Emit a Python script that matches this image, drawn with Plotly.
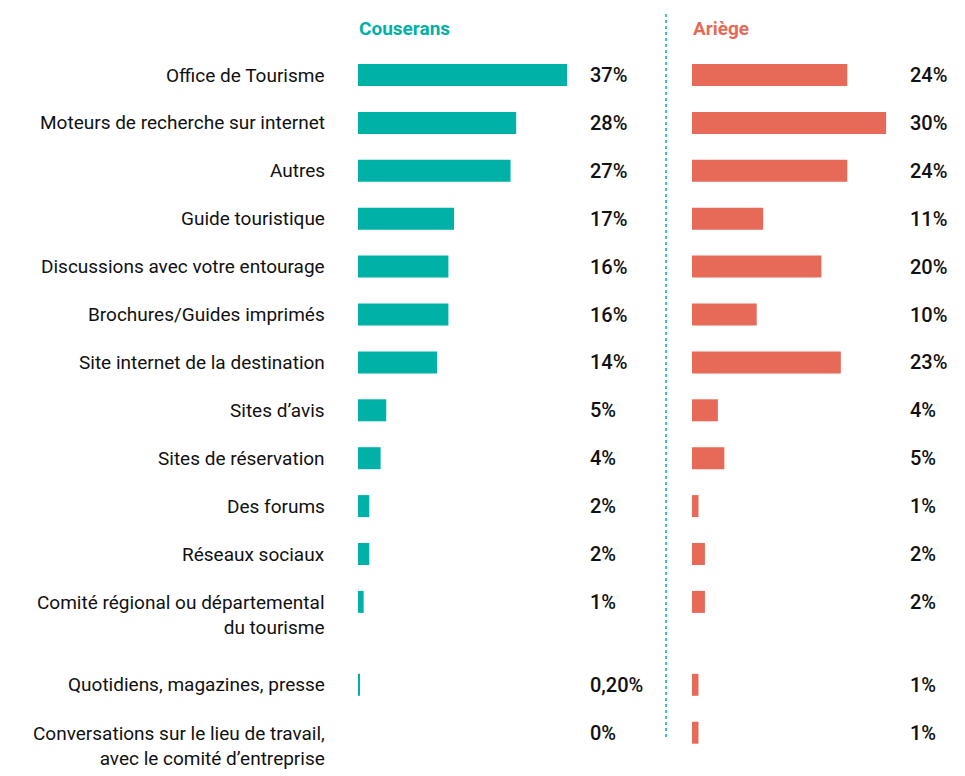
import plotly.graph_objects as go

categories = [
    "Office de Tourisme",
    "Moteurs de recherche sur internet",
    "Autres",
    "Guide touristique",
    "Discussions avec votre entourage",
    "Brochures/Guides imprimés",
    "Site internet de la destination",
    "Sites d’avis",
    "Sites de réservation",
    "Des forums",
    "Réseaux sociaux",
    "Comité régional ou départemental<br>du tourisme",
    "Quotidiens, magazines, presse",
    "Conversations sur le lieu de travail,<br>avec le comité d’entreprise",
]
couserans = [37, 28, 27, 17, 16, 16, 14, 5, 4, 2, 2, 1, 0.2, 0]
couserans_labels = ["37%", "28%", "27%", "17%", "16%", "16%", "14%", "5%", "4%", "2%", "2%", "1%", "0,20%", "0%"]
ariege = [24, 30, 24, 11, 20, 10, 23, 4, 5, 1, 2, 2, 1, 1]
ariege_labels = ["24%", "30%", "24%", "11%", "20%", "10%", "23%", "4%", "5%", "1%", "2%", "2%", "1%", "1%"]

TEAL = "#00B1A7"
SALMON = "#E66A57"
FONT = "Roboto, sans-serif"
W, H = 965, 776
OFF = 8  # page body margin


def px(x):
    return (x - OFF) / W


# row positions (pixel-like units), extra space after two-line labels
FIRST, STEP, EXTRA = 75 - OFF, 47.9, 35
pos = []
y = FIRST
for c in categories:
    pos.append(y)
    y += STEP + (EXTRA if "<br>" in c else 0)

fig = go.Figure()
fig.add_trace(go.Bar(y=pos, x=couserans, orientation="h", width=22,
                     marker=dict(color=TEAL, line=dict(width=0)),
                     xaxis="x", yaxis="y", hoverinfo="skip"))
fig.add_trace(go.Bar(y=pos, x=ariege, orientation="h", width=22,
                     marker=dict(color=SALMON, line=dict(width=0)),
                     xaxis="x2", yaxis="y", hoverinfo="skip"))

ann = []
LINE_H = 26
for c, p, cl, al in zip(categories, pos, couserans_labels, ariege_labels):
    n = c.count("<br>")
    ann.append(dict(text=c, x=px(327), xref="paper", xanchor="right", align="right",
                    y=p + n * LINE_H / 2, yref="y", yanchor="middle", showarrow=False,
                    font=dict(family=FONT, size=19, color="#111")))
    ann.append(dict(text=cl, x=px(588), xref="paper", xanchor="left",
                    y=p, yref="y", yanchor="middle", showarrow=False,
                    font=dict(family=FONT, size=20, color="#111", weight=500)))
    ann.append(dict(text=al, x=px(908), xref="paper", xanchor="left",
                    y=p, yref="y", yanchor="middle", showarrow=False,
                    font=dict(family=FONT, size=20, color="#111", weight=500)))

ann.append(dict(text="<b>Couserans</b>", x=px(357), xref="paper", xanchor="left",
                y=28 - OFF, yref="y", yanchor="middle", showarrow=False,
                font=dict(family=FONT, size=19, color=TEAL)))
ann.append(dict(text="<b>Ariège</b>", x=px(691), xref="paper", xanchor="left",
                y=28 - OFF, yref="y", yanchor="middle", showarrow=False,
                font=dict(family=FONT, size=19, color=SALMON)))

fig.update_layout(
    width=W, height=H,
    margin=dict(l=0, r=0, t=0, b=0),
    paper_bgcolor="white", plot_bgcolor="white",
    showlegend=False,
    xaxis=dict(domain=[px(358), px(666)], range=[0, (666 - 358) / 5.65], visible=False, fixedrange=True),
    xaxis2=dict(domain=[px(692), px(965)], range=[0, (965 - 692) / 6.47], visible=False, fixedrange=True),
    yaxis=dict(domain=[0, 1], range=[H, 0], visible=False, fixedrange=True),
    annotations=ann,
    shapes=[dict(type="line", xref="paper", yref="y", x0=px(666), x1=px(666), y0=14 - OFF, y1=740 - OFF,
                 line=dict(color=TEAL, width=1.5, dash="dot"))],
)

fig.write_html("out.html")
